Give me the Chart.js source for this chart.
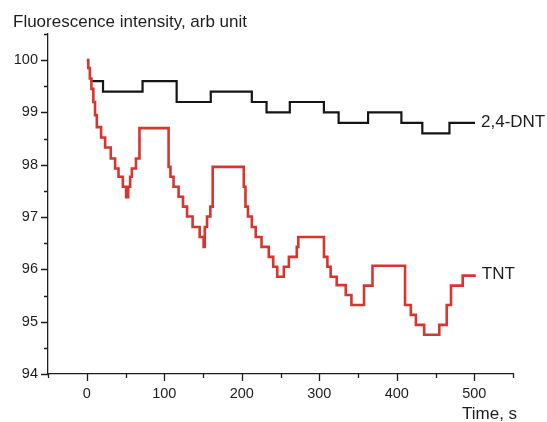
<!DOCTYPE html>
<html>
<head>
<meta charset="utf-8">
<script src="https://cdn.jsdelivr.net/npm/chart.js@4"></script>
<style>
  html, body { margin: 0; padding: 0; background: #fff; }
  #wrap { width: 547px; height: 422px; }
</style>
</head>
<body>
<div id="wrap"><canvas id="chart" width="547" height="422"></canvas></div>
<script>
// time (s) / fluorescence (arb unit)
const tntTime = [0, 2, 4, 6, 8.5, 10.7, 13, 18.5, 23.7, 31, 36.6, 41, 46.6, 50.8, 53.5, 56, 58.2, 63.5, 68,
  105.6, 108, 112, 118.5, 124.2, 129.4, 136.6, 145.7, 150.8, 152.3, 155.2, 159.5, 162.5,
  202.6, 204.8, 208, 213, 218, 225.5, 234.9, 240.6, 245.8, 254.3, 260.8, 271, 273,
  306.1, 310.5, 314.7, 322.5, 334.2, 341.5, 357.8, 368.7,
  410.7, 418.2, 424.7, 435.4, 454.9, 464.5, 470, 485.1, 502];
const tntValue = [100.0, 99.85, 99.65, 99.45, 99.2, 98.95, 98.72, 98.52, 98.33, 98.12, 97.93, 97.77, 97.58, 97.38, 97.58, 97.77, 97.93, 98.12, 98.70,
  97.96, 97.77, 97.58, 97.39, 97.20, 97.01, 96.81, 96.62, 96.43, 96.81, 97.01, 97.20, 97.96,
  97.58, 97.20, 97.01, 96.81, 96.62, 96.43, 96.24, 96.05, 95.86, 96.05, 96.24, 96.43, 96.62,
  96.24, 96.05, 95.86, 95.70, 95.51, 95.32, 95.69, 96.07,
  95.32, 95.13, 94.94, 94.75, 94.94, 95.32, 95.69, 95.88, 95.88];

const dntTime = [5, 21, 72, 116, 160, 213, 232, 262, 306, 325, 363, 406, 433, 468, 501];
const dntValue = [99.6, 99.4, 99.6, 99.2, 99.4, 99.2, 99.0, 99.2, 99.0, 98.8, 99.0, 98.8, 98.6, 98.8, 98.8];

const seriesNames = ["TNT", "2,4-DNT"];
const xLabelValues = [0, 100, 200, 300, 400, 500];
const yLabelValues = [94, 95, 96, 97, 98, 99, 100];
const yTitle = "Fluorescence intensity, arb unit";
const xTitle = "Time, s";

const FONT = '"Liberation Sans", Arial, sans-serif';
const INK = "#1e1e1e";

const toPoints = (ts, vs) => ts.map((t, i) => ({ x: t, y: vs[i] }));

// outward ticks (long for labelled, short for the rest) + texts
const decorations = {
  id: "decorations",
  afterDraw(chart) {
    const ctx = chart.ctx;
    const xs = chart.scales.x;
    const ys = chart.scales.y;
    const area = chart.chartArea;
    ctx.save();
    ctx.strokeStyle = INK;
    ctx.lineWidth = 1.3;
    ctx.beginPath();
    ys.ticks.forEach((tk) => {
      const py = Math.round(ys.getPixelForValue(tk.value)) + 0.5;
      const len = yLabelValues.includes(tk.value) ? 7 : 4;
      ctx.moveTo(area.left - len, py);
      ctx.lineTo(area.left, py);
    });
    xs.ticks.forEach((tk) => {
      const px = Math.round(xs.getPixelForValue(tk.value)) + 0.5;
      const len = xLabelValues.includes(tk.value) ? 7 : 4;
      ctx.moveTo(px, area.bottom);
      ctx.lineTo(px, area.bottom + len);
    });
    ctx.stroke();

    ctx.fillStyle = INK;
    ctx.font = "17px " + FONT;
    ctx.textAlign = "left";
    ctx.textBaseline = "alphabetic";
    ctx.fillText(yTitle, 13, 27);
    ctx.fillText(xTitle, 462, 419);

    ctx.textBaseline = "middle";
    chart.data.datasets.forEach((ds) => {
      const last = ds.data[ds.data.length - 1];
      ctx.fillText(ds.label, xs.getPixelForValue(last.x) + 6, ys.getPixelForValue(last.y) - 1);
    });
    ctx.restore();
  },
};

new Chart(document.getElementById("chart"), {
  type: "line",
  data: {
    datasets: [
      {
        label: seriesNames[0],
        data: toPoints(tntTime, tntValue),
        borderColor: "#d8352f",
        borderWidth: 2.6,
        stepped: true,
        pointRadius: 0,
        fill: false,
      },
      {
        label: seriesNames[1],
        data: toPoints(dntTime, dntValue),
        borderColor: "#151515",
        borderWidth: 2.2,
        stepped: true,
        pointRadius: 0,
        fill: false,
      },
    ],
  },
  options: {
    responsive: false,
    animation: false,
    devicePixelRatio: 1,
    layout: { padding: { top: 34, right: 34, left: 0, bottom: 0 } },
    plugins: { legend: { display: false }, tooltip: { enabled: false } },
    scales: {
      x: {
        type: "linear",
        min: -50,
        max: 550,
        grid: { display: false, drawTicks: false },
        border: { display: true, color: INK, width: 1.3 },
        ticks: {
          stepSize: 50,
          autoSkip: false,
          maxRotation: 0,
          padding: 11,
          color: INK,
          font: { family: FONT, size: 14.5 },
          callback: (v) => (xLabelValues.includes(v) ? String(v) : ""),
        },
        afterFit: (s) => { s.height = 48; },
      },
      y: {
        type: "linear",
        min: 94,
        max: 100.5,
        grid: { display: false, drawTicks: false },
        border: { display: true, color: INK, width: 1.3 },
        ticks: {
          stepSize: 0.5,
          autoSkip: false,
          padding: 10,
          color: INK,
          font: { family: FONT, size: 14.5 },
          callback: (v) => (yLabelValues.includes(v) ? String(v) : ""),
        },
        afterFit: (s) => { s.width = 48; },
      },
    },
  },
  plugins: [decorations],
});
</script>
</body>
</html>
